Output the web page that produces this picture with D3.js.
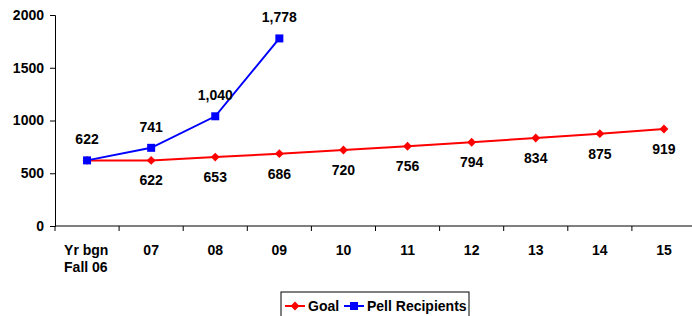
<!DOCTYPE html>
<html>
<head>
<meta charset="utf-8">
<script src="https://cdn.jsdelivr.net/npm/d3@7"></script>
<style>
  body { margin: 0; background: #fff; }
  svg { font-family: "Liberation Sans", Arial, sans-serif; font-weight: bold; }
  .axis path, .axis line { stroke: #000; }
  .axis text { font-size: 14px; fill: #000; font-weight: bold; }
</style>
</head>
<body>
<div id="chart"></div>
<script>
// chart data
const categories = ['Yr bgn|Fall 06', '07', '08', '09', '10', '11', '12', '13', '14', '15'];
const goal = [622, 622, 653, 686, 720, 756, 794, 834, 875, 919];
const goalLabels = [null, '622', '653', '686', '720', '756', '794', '834', '875', '919'];
const pell = [622, 741, 1040, 1778];
const pellLabels = ['622', '741', '1,040', '1,778'];
const yTicks = [0, 500, 1000, 1500, 2000];

// dimensions
const svgWidth = 692, svgHeight = 316;
const margin = { top: 15, right: -4, bottom: 90, left: 55 };
const width = svgWidth - margin.left - margin.right;
const height = svgHeight - margin.top - margin.bottom;
const fontSize = 14;

const x = d3.scaleBand().domain(categories).range([0, width]);
const y = d3.scaleLinear().domain([0, 2000]).range([height, 0]);
const cx = d => x(d) + x.bandwidth() / 2;

let svg = d3.select('#chart')
  .append('svg')
  .attr('width', svgWidth)
  .attr('height', svgHeight);

let focus = svg.append('g')
  .attr('transform', 'translate(' + margin.left + ',' + margin.top + ')');

// Y axis
focus.append('g')
  .attr('class', 'axis')
  .call(d3.axisLeft(y).tickValues(yTicks).tickSize(5).tickSizeOuter(5).tickPadding(6).tickFormat(d3.format('d')));

// X axis with ticks between categories
let xAxis = focus.append('g')
  .attr('class', 'axis')
  .attr('transform', 'translate(0,' + height + ')');
xAxis.append('path').attr('d', 'M0,0H' + width);
xAxis.selectAll('line.tk')
  .data(categories.concat(['end']))
  .enter()
  .append('line')
  .attr('x1', (d, i) => i * x.bandwidth())
  .attr('x2', (d, i) => i * x.bandwidth())
  .attr('y1', 0).attr('y2', 5);

// category labels, the first one on two lines
let xt = xAxis.selectAll('text.lbl')
  .data(categories)
  .enter()
  .append('text')
  .attr('class', 'lbl')
  .attr('y', 29)
  .attr('text-anchor', d => d.includes('|') ? 'start' : 'middle');
xt.each(function(d) {
  let parts = d.split('|');
  let t = d3.select(this);
  parts.forEach((p, i) => {
    t.append('tspan')
      .attr('x', parts.length > 1 ? cx(d) - 23 : cx(d))
      .attr('dy', i === 0 ? 0 : 17)
      .text(p);
  });
});

// lines
let line = d3.line().x((d, i) => cx(categories[i])).y(d => y(d));

focus.append('path')
  .datum(goal)
  .attr('fill', 'none')
  .attr('stroke', '#ff0000')
  .attr('stroke-width', 2)
  .attr('d', line);

focus.append('path')
  .datum(pell)
  .attr('fill', 'none')
  .attr('stroke', '#0000ff')
  .attr('stroke-width', 2)
  .attr('d', line);

// markers
const diamond = d3.symbol().type(d3.symbolDiamond2).size(50);
focus.selectAll('.goal-pt')
  .data(goal)
  .enter()
  .append('path')
  .attr('class', 'goal-pt')
  .attr('d', diamond)
  .attr('fill', '#ff0000')
  .attr('transform', (d, i) => 'translate(' + cx(categories[i]) + ',' + y(d) + ')');

focus.selectAll('.pell-pt')
  .data(pell)
  .enter()
  .append('rect')
  .attr('class', 'pell-pt')
  .attr('x', (d, i) => cx(categories[i]) - 4)
  .attr('y', d => y(d) - 4)
  .attr('width', 8).attr('height', 8)
  .attr('fill', '#0000ff');

// data labels: goal below, pell above
goal.forEach((d, i) => {
  if (goalLabels[i] === null) return;
  focus.append('text')
    .attr('x', cx(categories[i]))
    .attr('y', y(d) + 25)
    .attr('text-anchor', 'middle')
    .attr('font-size', fontSize)
    .text(goalLabels[i]);
});

pell.forEach((d, i) => {
  focus.append('text')
    .attr('x', cx(categories[i]))
    .attr('y', y(d) - 16)
    .attr('text-anchor', 'middle')
    .attr('font-size', fontSize)
    .text(pellLabels[i]);
});

// legend
let legend = svg.append('g').attr('transform', 'translate(281,292)');
legend.append('rect')
  .attr('width', 188).attr('height', 30)
  .attr('fill', '#fff').attr('stroke', '#000');
const legendItems = [
  { name: 'Goal', color: '#ff0000', shape: 'diamond', x: 4 },
  { name: 'Pell Recipients', color: '#0000ff', shape: 'square', x: 63 }
];
legendItems.forEach(it => {
  let g = legend.append('g').attr('transform', 'translate(' + it.x + ',14)');
  g.append('line').attr('x1', 0).attr('x2', 20).attr('stroke', it.color).attr('stroke-width', 2);
  if (it.shape === 'diamond') {
    g.append('path').attr('d', diamond).attr('fill', it.color).attr('transform', 'translate(10,0)');
  } else {
    g.append('rect').attr('x', 6).attr('y', -4).attr('width', 8).attr('height', 8).attr('fill', it.color);
  }
  g.append('text').attr('x', 23).attr('y', 5).attr('font-size', fontSize).text(it.name);
});
</script>
</body>
</html>
